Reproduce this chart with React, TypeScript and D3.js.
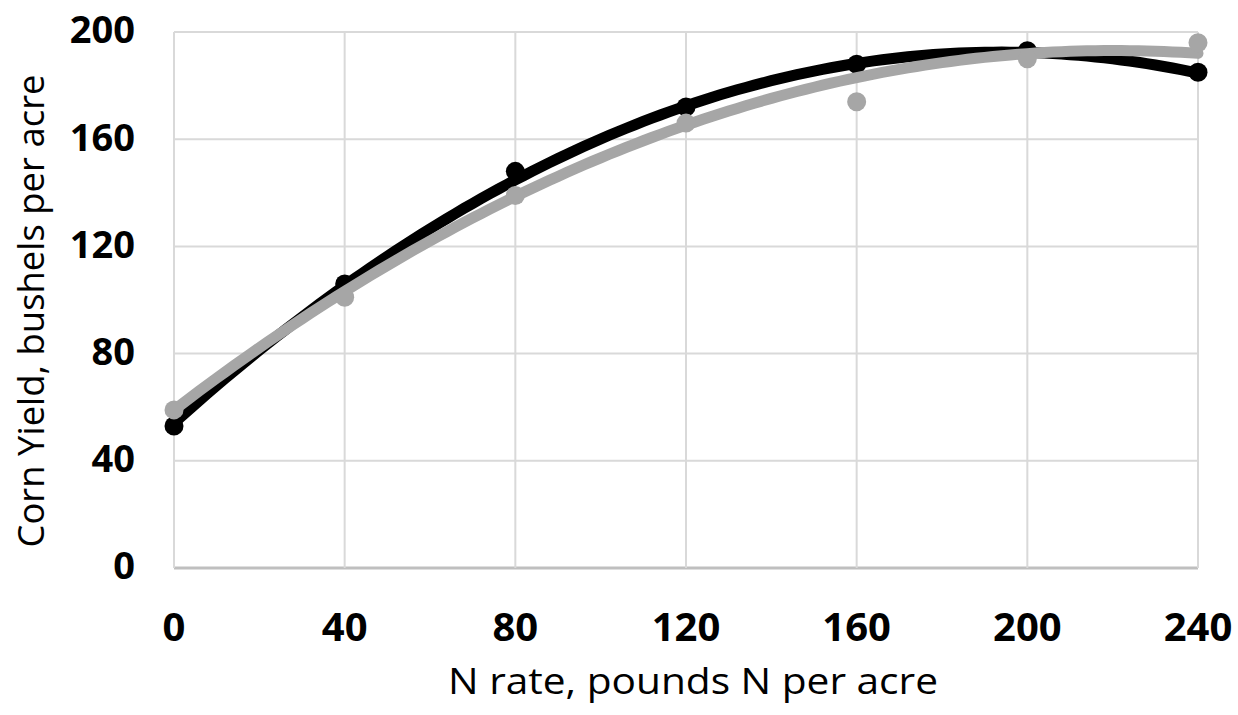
import React from "react";
import * as d3 from "d3";

// Nitrogen rates (lb N/acre) and corn yields (bu/acre) for the two data sets
const nRates = [0, 40, 80, 120, 160, 200, 240];
const yieldBlack = [53, 106, 148, 172, 188, 193, 185];
const yieldGray = [59, 101, 139, 166, 174, 190, 196];
// Second-order polynomial trendlines: yield = c0 + c1 * N + c2 * N^2
const trendBlack = [54.14, 1.4277, -0.003683];
const trendGray = [58.95, 1.2171, -0.002761];
const xTicks = [0, 40, 80, 120, 160, 200, 240];
const yTicks = [0, 40, 80, 120, 160, 200];

const W = 1238;
const H = 715;
const margin = { left: 174, right: 40, top: 32, bottom: 147 };

const series = [
  { name: "black", values: yieldBlack, trend: trendBlack, color: "#000000" },
  { name: "gray", values: yieldGray, trend: trendGray, color: "#a6a6a6" },
];

export default function App() {
  const x = d3.scaleLinear().domain([0, 240]).range([margin.left, W - margin.right]);
  const y = d3.scaleLinear().domain([0, 200]).range([H - margin.bottom, margin.top]);
  const samples = d3.range(0, 240.01, 2);
  const line = d3
    .line<[number, number]>()
    .x((d) => x(d[0]))
    .y((d) => y(d[1]));

  const font = "'Open Sans', 'DejaVu Sans', sans-serif";

  return (
    <svg
      width={W}
      height={H}
      style={{ position: "absolute", left: 0, top: 0, background: "#ffffff" }}
    >
      <rect width={W} height={H} fill="#ffffff" />
      {/* grid */}
      {yTicks.map((t) => (
        <line
          key={"gy" + t}
          x1={x(0)}
          x2={x(240)}
          y1={y(t)}
          y2={y(t)}
          stroke={t === 0 ? "#bfbfbf" : "#d9d9d9"}
          strokeWidth={t === 0 ? 3 : 2}
        />
      ))}
      {xTicks.map((t) => (
        <line
          key={"gx" + t}
          x1={x(t)}
          x2={x(t)}
          y1={y(0)}
          y2={y(200)}
          stroke="#d9d9d9"
          strokeWidth={2}
        />
      ))}
      {/* tick labels */}
      {yTicks.map((t) => (
        <text
          key={"ly" + t}
          x={135}
          y={y(t)}
          dy="0.3em"
          textAnchor="end"
          fontFamily={font}
          fontWeight={700}
          fontSize={38}
          fill="#000"
        >
          {t}
        </text>
      ))}
      {xTicks.map((t) => (
        <text
          key={"lx" + t}
          x={x(t)}
          y={641}
          textAnchor="middle"
          fontFamily={font}
          fontWeight={700}
          fontSize={40}
          fill="#000"
        >
          {t}
        </text>
      ))}
      {/* axis titles */}
      <text
        x={693}
        y={694}
        textAnchor="middle"
        fontFamily={font}
        fontSize={36}
        textLength={490}
        lengthAdjust="spacingAndGlyphs"
        fill="#000"
      >
        N rate, pounds N per acre
      </text>
      <text
        transform={`translate(44, 311) rotate(-90)`}
        textAnchor="middle"
        fontFamily={font}
        fontSize={36}
        textLength={473}
        lengthAdjust="spacingAndGlyphs"
        fill="#000"
      >
        Corn Yield, bushels per acre
      </text>
      {/* polynomial trendlines and observed points */}
      {series.map((s) => {
        const [c0, c1, c2] = s.trend;
        const pts: [number, number][] = samples.map((v) => [v, c0 + c1 * v + c2 * v * v]);
        return (
          <g key={s.name}>
            <path
              d={line(pts) || ""}
              fill="none"
              stroke={s.color}
              strokeWidth={11}
              strokeLinecap="round"
              strokeLinejoin="round"
            />
            {s.values.map((v, i) => (
              <circle key={i} cx={x(nRates[i])} cy={y(v)} r={9.5} fill={s.color} />
            ))}
          </g>
        );
      })}
    </svg>
  );
}
